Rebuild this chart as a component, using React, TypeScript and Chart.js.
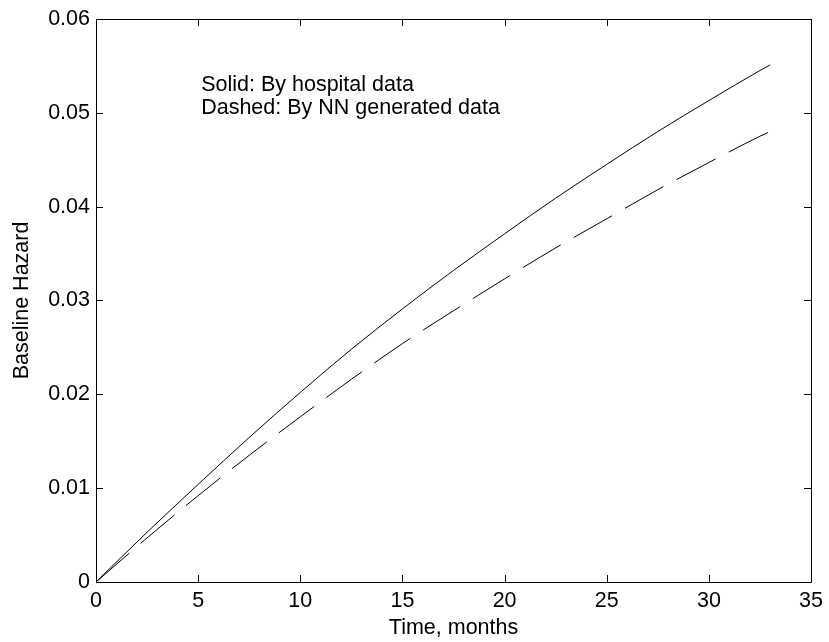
import React, { useEffect, useRef } from "react";
import { Chart, registerables } from "chart.js";

Chart.register(...registerables);

// ---- data ----
const months = [0, 2.5, 5, 7.5, 10, 12.5, 15, 17.5, 20, 22.5, 25, 27.5, 30, 32.5, 33];
const hospitalHazard = [0, 0.0053, 0.0104, 0.0154, 0.0202, 0.0248, 0.0291, 0.0332, 0.0371, 0.0409, 0.0445, 0.0480, 0.0513, 0.0545, 0.0551];
const nnHazard = [0, 0.0047, 0.0092, 0.0135, 0.0176, 0.0216, 0.0254, 0.0289, 0.0323, 0.0356, 0.0387, 0.0418, 0.0447, 0.0475, 0.0480];
const xTickValues = [0, 5, 10, 15, 20, 25, 30, 35];
const yTickValues = [0, 0.01, 0.02, 0.03, 0.04, 0.05, 0.06];
const xTitle = "Time, months";
const yTitle = "Baseline Hazard";
const noteLines = ["Solid: By hospital data", "Dashed: By NN generated data"];

const FONT_FAMILY = "'Liberation Sans', Arial, Helvetica, sans-serif";
const FONT_SIZE = 21.5;

const W = 829;
const H = 642;

const framePlugin = {
  id: "matlabFrame",
  afterDraw(chart: any) {
    const { ctx, chartArea } = chart;
    const xs = chart.scales.x;
    const ys = chart.scales.y;
    const { left, right, top, bottom } = chartArea;
    const tick = 7;
    ctx.save();
    ctx.strokeStyle = "#000";
    ctx.lineWidth = 1;
    // box
    ctx.beginPath();
    ctx.rect(Math.round(left) + 0.5, Math.round(top) + 0.5, Math.round(right - left), Math.round(bottom - top));
    ctx.stroke();
    // inward ticks
    ctx.beginPath();
    xTickValues.forEach((v) => {
      const px = Math.round(xs.getPixelForValue(v)) + 0.5;
      ctx.moveTo(px, bottom);
      ctx.lineTo(px, bottom - tick);
      ctx.moveTo(px, top);
      ctx.lineTo(px, top + tick);
    });
    yTickValues.forEach((v) => {
      const py = Math.round(ys.getPixelForValue(v)) + 0.5;
      ctx.moveTo(left, py);
      ctx.lineTo(left + tick, py);
      ctx.moveTo(right, py);
      ctx.lineTo(right - tick, py);
    });
    ctx.stroke();

    ctx.fillStyle = "#000";
    ctx.font = `${FONT_SIZE}px ${FONT_FAMILY}`;
    // x title
    ctx.textAlign = "center";
    ctx.textBaseline = "middle";
    ctx.fillText(xTitle, (left + right) / 2, 628);
    // y title
    ctx.save();
    ctx.translate(22, (top + bottom) / 2);
    ctx.rotate(-Math.PI / 2);
    ctx.fillText(yTitle, 0, 0);
    ctx.restore();
    // note
    ctx.textAlign = "left";
    ctx.textBaseline = "middle";
    const nx = xs.getPixelForValue(5) + 3;
    ctx.fillText(noteLines[0], nx, ys.getPixelForValue(0.0529));
    ctx.fillText(noteLines[1], nx, ys.getPixelForValue(0.0505));
    ctx.restore();
  },
};

export default function App() {
  const ref = useRef<HTMLCanvasElement>(null);

  useEffect(() => {
    if (!ref.current) return;
    const chart = new Chart(ref.current, {
      type: "line",
      data: {
        datasets: [
          {
            label: "Solid: By hospital data",
            data: months.map((m, i) => ({ x: m, y: hospitalHazard[i] })),
            borderColor: "#000",
            borderWidth: 1,
            pointRadius: 0,
            fill: false,
            cubicInterpolationMode: "monotone",
          },
          {
            label: "Dashed: By NN generated data",
            data: months.map((m, i) => ({ x: m, y: nnHazard[i] })),
            borderColor: "#000",
            borderWidth: 1,
            borderDash: [44, 15],
            pointRadius: 0,
            fill: false,
            cubicInterpolationMode: "monotone",
          },
        ],
      },
      options: {
        animation: false,
        responsive: false,
        devicePixelRatio: 1,
        layout: { padding: { left: 0, top: 15, right: 14, bottom: 0 } },
        plugins: { legend: { display: false }, tooltip: { enabled: false } },
        scales: {
          x: {
            type: "linear",
            min: 0,
            max: 35,
            border: { display: false },
            grid: { display: false, drawTicks: false },
            afterBuildTicks: (s: any) => {
              s.ticks = xTickValues.map((v) => ({ value: v }));
            },
            afterFit: (s: any) => {
              s.height = 60;
            },
            ticks: {
              color: "#000",
              padding: 6,
              maxRotation: 0,
              autoSkip: false,
              font: { family: FONT_FAMILY, size: FONT_SIZE },
              callback: (v: any) => String(v),
            },
          },
          y: {
            type: "linear",
            min: 0,
            max: 0.06,
            border: { display: false },
            grid: { display: false, drawTicks: false },
            afterBuildTicks: (s: any) => {
              s.ticks = yTickValues.map((v) => ({ value: v }));
            },
            afterFit: (s: any) => {
              s.width = 96;
            },
            ticks: {
              color: "#000",
              padding: 6,
              autoSkip: false,
              font: { family: FONT_FAMILY, size: FONT_SIZE },
              callback: (v: any) => (v === 0 ? "0" : Number(v).toFixed(2)),
            },
          },
        },
      },
      plugins: [framePlugin],
    });
    return () => chart.destroy();
  }, []);

  return (
    <div style={{ position: "absolute", left: 0, top: 0, width: W, height: H, background: "#fff" }}>
      <canvas ref={ref} width={W} height={H} style={{ width: W, height: H, display: "block" }} />
    </div>
  );
}
